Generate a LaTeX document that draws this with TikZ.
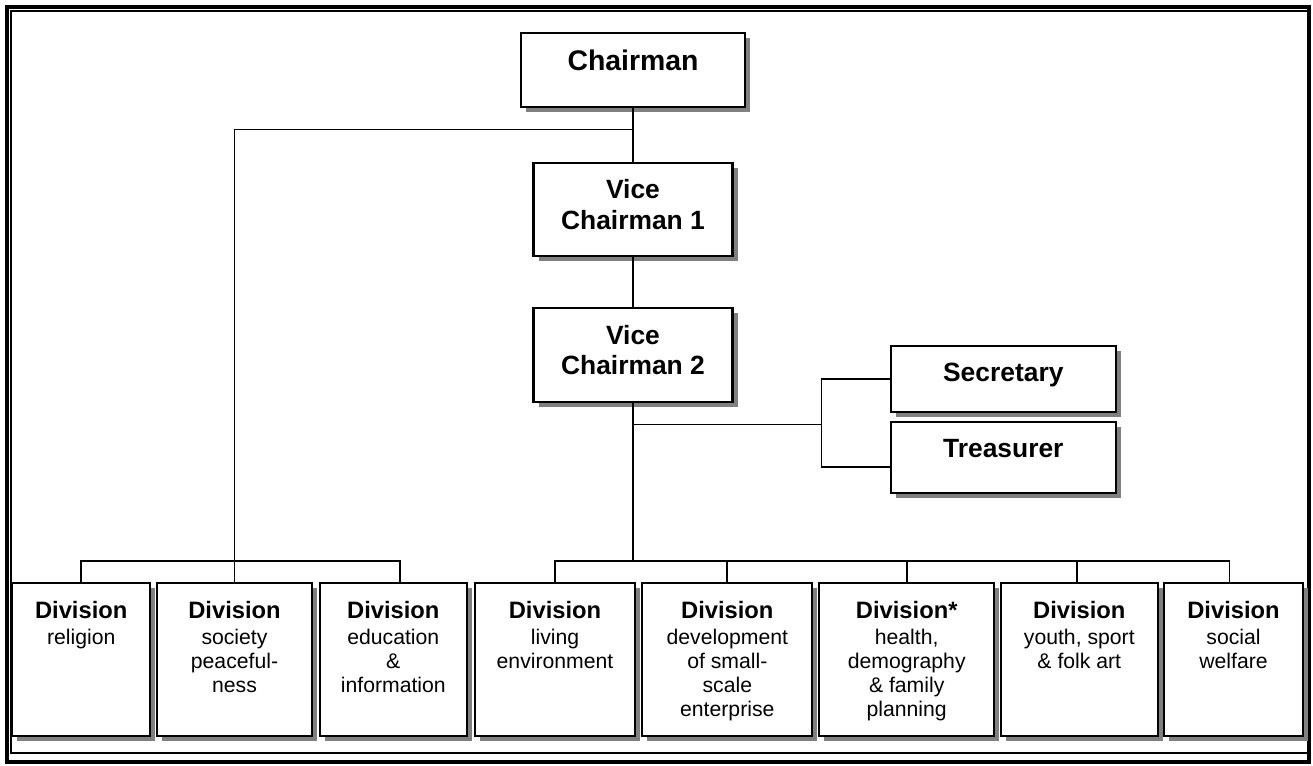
\documentclass[tikz,border=0pt]{standalone}
\usepackage{fontspec}
\setmainfont{Liberation Sans}
\usetikzlibrary{shadows,calc}
\newcommand\boxtxt[4]{\parbox[c][#2][t]{#1}{\centering\vspace*{#3}#4}}
\newcommand\hdfont{\fontsize{19.8}{23}\selectfont\bfseries}
\newcommand\divhead[1]{{\fontsize{17.8}{21}\selectfont\bfseries #1\par}\vspace{1.7pt}\fontsize{15.9}{17.8}\selectfont}
\tikzset{
  orgbox/.style={draw=black, line width=1.6pt, fill=white, inner sep=0pt,
    drop shadow={shadow xshift=3.75pt, shadow yshift=-3.75pt, fill=black!50, opacity=1}},
  conn/.style={draw=black, line width=1.3pt},
  frameouter/.style={draw=black, line width=3.2pt},
  frameinner/.style={draw=black, line width=1.2pt}
}
\begin{document}
\begin{tikzpicture}[x=0.75pt,y=-0.75pt]
\useasboundingbox (0,0) rectangle (1313,765);
% page frame
\draw[frameouter] (7,7) rectangle (1309,762);
\draw[frameinner] (10.8,11) rectangle (1308,753);

% top hierarchy
\node[orgbox] (ch) at (633,70) {\boxtxt{167.55pt}{55.95pt}{13pt}{\fontsize{21.3}{25}\selectfont\bfseries Chairman}};
\node[orgbox] (v1) at (633,209.5) {\boxtxt{149.25pt}{69.3pt}{12pt}{\hdfont Vice\\Chairman 1}};
\node[orgbox] (v2) at (633,354.7) {\boxtxt{149.25pt}{70.5pt}{13pt}{\hdfont Vice\\Chairman 2}};
\node[orgbox] (sec) at (1003.3,378.7) {\boxtxt{168.5pt}{49.5pt}{13.2pt}{\hdfont Secretary}};
\node[orgbox] (tre) at (1003.3,457.5) {\boxtxt{168.5pt}{52.8pt}{12.75pt}{\hdfont Treasurer}};

% divisions
\node[orgbox] (d1) at (81.2,659.5) {\boxtxt{103.3pt}{114.75pt}{14pt}{\divhead{Division}religion}};
\node[orgbox] (d2) at (234.5,659.5) {\boxtxt{116.7pt}{114.75pt}{14pt}{\divhead{Division}society\\peaceful-\\ness}};
\node[orgbox] (d3) at (393.3,659.5) {\boxtxt{110pt}{114.75pt}{14pt}{\divhead{Division}education\\\&\\information}};
\node[orgbox] (d4) at (555,659.5) {\boxtxt{120pt}{114.75pt}{14pt}{\divhead{Division}living\\environment}};
\node[orgbox] (d5) at (727.3,659.5) {\boxtxt{127.5pt}{114.75pt}{14pt}{\divhead{Division}development\\of small-\\scale\\enterprise}};
\node[orgbox] (d6) at (906.7,659.5) {\boxtxt{131.5pt}{114.75pt}{14pt}{\divhead{Division*}health,\\demography\\\& family\\planning}};
\node[orgbox] (d7) at (1079.3,659.5) {\boxtxt{117.5pt}{114.75pt}{14pt}{\divhead{Division}youth, sport\\\& folk art}};
\node[orgbox] (d8) at (1233.5,659.5) {\boxtxt{103.8pt}{114.75pt}{14pt}{\divhead{Division}social\\welfare}};

% junction coordinates
\coordinate (jc) at ($(ch.south)+(0,21.2)$);
\coordinate (busL) at (0,561);
\coordinate (busR) at (v2.south |- busL);
\coordinate (js) at ($(v2.south)+(0,21.6)$);
\coordinate (sv) at ($(js)+(188.4,0)$);
\coordinate (tw) at ($(tre.west)+(0,9.8)$);

% connectors
\draw[conn] (ch.south) -- (v1.north);
\draw[conn] (jc) -| (d2.north);
\draw[conn] (v1.south) -- (v2.north);
\draw[conn] (v2.south) -- (busR);
\draw[conn] (js) -- (sv);
\draw[conn] (sec.west) -| (sv) |- (tw);
\draw[conn] (d1.north) -- (d1.north |- busL) -| ($(d3.north)+(7,0)$);
\draw[conn] (d4.north) -- (d4.north |- busL) -| ($(d8.north)+(-4,0)$);
\draw[conn] (d5.north) -- (d5.north |- busL);
\draw[conn] (d6.north) -- (d6.north |- busL);
\draw[conn] ($(d7.north)+(-2.5,0)$) -- ($(d7.north |- busL)+(-2.5,0)$);
\end{tikzpicture}
\end{document}
